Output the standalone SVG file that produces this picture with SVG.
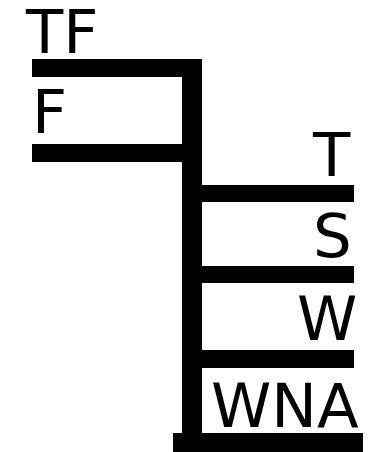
<svg xmlns="http://www.w3.org/2000/svg" width="373" height="452" viewBox="0 0 373 452">
<style>
text{font-family:"DejaVu Sans",sans-serif;font-size:61px;fill:#000}
.bar{fill:#000}
</style>
<rect width="373" height="452" fill="#fff"/>
<g id="connectors">
<rect class="bar" x="182" y="59" width="20" height="376"/>
</g>
<g id="node-TF">
<rect class="bar" x="32" y="59" width="170" height="18"/>
<text x="26" y="53">TF</text>
</g>
<g id="node-F">
<rect class="bar" x="32" y="144" width="150" height="18"/>
<text x="32" y="133">F</text>
</g>
<g id="node-T">
<rect class="bar" x="201" y="185" width="153" height="17"/>
<text x="313" y="176">T</text>
</g>
<g id="node-S">
<rect class="bar" x="201" y="266" width="153" height="17"/>
<text x="313" y="257">S</text>
</g>
<g id="node-W">
<rect class="bar" x="201" y="350" width="153" height="18"/>
<text x="297" y="340">W</text>
</g>
<g id="node-WNA">
<rect class="bar" x="173" y="433" width="190" height="19"/>
<text x="211" y="427">WNA</text>
</g>
</svg>
